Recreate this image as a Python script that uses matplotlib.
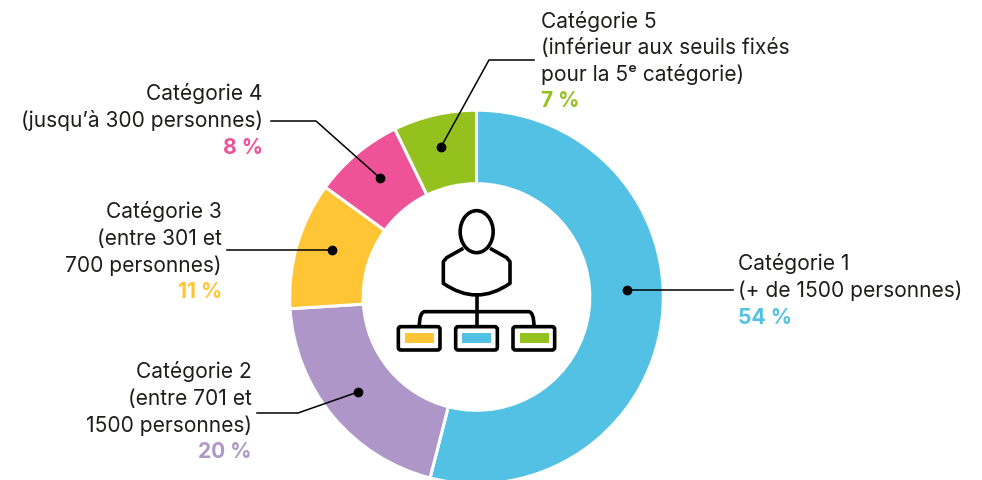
import matplotlib
matplotlib.use('Agg')
import matplotlib.pyplot as plt
from matplotlib.patches import Ellipse, FancyBboxPatch, PathPatch, Rectangle
from matplotlib.path import Path

values = [54, 20, 11, 7.8, 7.2]
colors = ['#52C1E3', '#AE97C8', '#FFC535', '#EE5397', '#95C11F']
pct_labels = ['54 %', '20 %', '11 %', '8 %', '7 %']
cat_labels = [
	['Catégorie 1', '(+ de 1500 personnes)'],
	['Catégorie 2', '(entre 701 et', '1500 personnes)'],
	['Catégorie 3', '(entre 301 et', '700 personnes)'],
	['Catégorie 4', '(jusqu’à 300 personnes)'],
	['Catégorie 5', '(inférieur aux seuils fixés', 'pour la 5ᵉ catégorie)'],
]

plt.rcParams['font.family'] = ['Inter', 'DejaVu Sans']
FS = 15.1
LINE = 26.8

fig = plt.figure(figsize=(9.82, 4.8), dpi=100)
ax = fig.add_axes([0, 0, 1, 1])

# pixels de l'image, y vers le haut
def Y(y):
	return 480 - y

ax.pie(values, colors=colors, startangle=90, counterclock=False, center=(476.5, Y(297)), radius=186.8,
	wedgeprops=dict(width=73.5, edgecolor='white', linewidth=2.2))
ax.set_xlim(0, 982)
ax.set_ylim(0, 480)
ax.set_aspect('equal')
ax.axis('off')

# traits de rappel
leaders = [
	[(627, 290), (733, 290)],
	[(358, 392), (298, 413), (257, 413)],
	[(332, 250), (227, 250)],
	[(380, 178), (316, 121), (271, 121)],
	[(441, 147), (489, 60), (534, 60)],
]
for pts in leaders:
	ax.plot([p[0] for p in pts], [Y(p[1]) for p in pts], color='black', lw=1.1, zorder=5)
	ax.plot(pts[0][0], Y(pts[0][1]), 'o', color='black', ms=6, zorder=6)

# textes : x, y de la premiere ligne, alignement
text_pos = [(738, 264, 'left'), (252, 372, 'right'), (222, 212, 'right'), (263, 94, 'right'), (541, 21, 'left')]
for lines, pct, col, (x, y, ha) in zip(cat_labels, pct_labels, colors, text_pos):
	for i, line in enumerate(lines):
		ax.text(x, Y(y + i * LINE), line, ha=ha, va='center', fontsize=FS, color='#1d1d1b')
	ax.text(x, Y(y + len(lines) * LINE), pct, ha=ha, va='center', fontsize=FS, fontweight='bold', color=col)

# icone centrale
LW = 2.6
def zx(v):
	return 380 + v / 3
def zy(v):
	return Y(190 + v / 3)

ax.add_patch(Ellipse((zx(290), zy(125)), 33, 42, fc='white', ec='black', lw=LW, zorder=5))
body = Path(
	[(zx(250), zy(175)), (zx(200), zy(203)), (zx(190), zy(215)), (zx(190), zy(280)),
	(zx(290), zy(350)), (zx(390), zy(280)), (zx(390), zy(215)), (zx(380), zy(203)), (zx(330), zy(175))],
	[Path.MOVETO, Path.LINETO, Path.LINETO, Path.LINETO, Path.CURVE3, Path.CURVE3, Path.LINETO, Path.LINETO, Path.LINETO])
ax.add_patch(PathPatch(body, fc='none', ec='black', lw=LW, zorder=5, joinstyle='round'))
ax.plot([zx(290), zx(290)], [zy(318), zy(410)], color='black', lw=LW, zorder=5)
branch = Path(
	[(zx(118), zy(410)), (zx(118), zy(365)), (zx(135), zy(365)), (zx(445), zy(365)), (zx(462), zy(365)), (zx(462), zy(410))],
	[Path.MOVETO, Path.CURVE3, Path.CURVE3, Path.LINETO, Path.CURVE3, Path.CURVE3])
ax.add_patch(PathPatch(branch, fc='none', ec='black', lw=LW, zorder=5))
for left, col in zip([55, 227, 399], [colors[2], colors[0], colors[4]]):
	ax.add_patch(FancyBboxPatch((zx(left), zy(480)), 125 / 3, 70 / 3, boxstyle='round,pad=0,rounding_size=2.5',
		fc='white', ec='black', lw=LW, zorder=5))
	ax.add_patch(Rectangle((zx(left + 20), zy(458)), 87 / 3, 28 / 3, fc=col, ec='none', zorder=6))

fig.savefig('out.png', dpi=100)
